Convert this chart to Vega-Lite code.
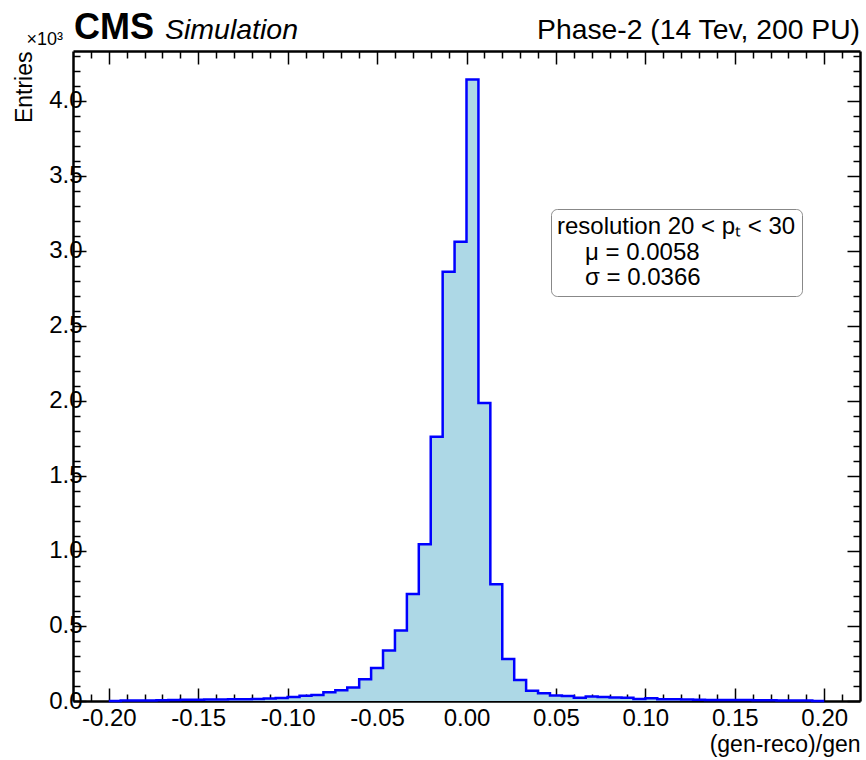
{
  "$schema": "https://vega.github.io/schema/vega-lite/v6.json",
  "width": 787,
  "height": 650,
  "autosize": "none",
  "padding": {"left": 73, "top": 51, "right": 6, "bottom": 59},
  "background": "white",
  "config": {
    "view": {"stroke": null},
    "font": "Liberation Sans",
    "axis": {
      "domainColor": "black", "domainWidth": 2.5, "tickColor": "black", "tickWidth": 1.5,
      "labelFont": "Liberation Sans", "labelFontSize": 24, "labelColor": "black",
      "titleFont": "Liberation Sans", "titleFontSize": 23, "titleFontWeight": "normal", "titleColor": "black",
      "grid": false
    }
  },
  "datasets": {
    "hist": [
      {"x": -0.2, "n": 0}, {"x": -0.19333, "n": 3}, {"x": -0.18667, "n": 4}, {"x": -0.18, "n": 4},
      {"x": -0.17333, "n": 5}, {"x": -0.16667, "n": 7}, {"x": -0.16, "n": 8}, {"x": -0.15333, "n": 9},
      {"x": -0.14667, "n": 10}, {"x": -0.14, "n": 10}, {"x": -0.13333, "n": 11}, {"x": -0.12667, "n": 12},
      {"x": -0.12, "n": 14}, {"x": -0.11333, "n": 16}, {"x": -0.10667, "n": 20}, {"x": -0.1, "n": 26},
      {"x": -0.09333, "n": 35}, {"x": -0.08667, "n": 40}, {"x": -0.08, "n": 58}, {"x": -0.07333, "n": 72},
      {"x": -0.06667, "n": 90}, {"x": -0.06, "n": 145}, {"x": -0.05333, "n": 220}, {"x": -0.04667, "n": 336},
      {"x": -0.04, "n": 470}, {"x": -0.03333, "n": 712}, {"x": -0.02667, "n": 1045}, {"x": -0.02, "n": 1760},
      {"x": -0.01333, "n": 2860}, {"x": -0.00667, "n": 3060}, {"x": 0.0, "n": 4140}, {"x": 0.00667, "n": 1985},
      {"x": 0.01333, "n": 777}, {"x": 0.02, "n": 280}, {"x": 0.02667, "n": 140}, {"x": 0.03333, "n": 69},
      {"x": 0.04, "n": 51}, {"x": 0.04667, "n": 36}, {"x": 0.05333, "n": 34}, {"x": 0.06, "n": 22},
      {"x": 0.06667, "n": 30}, {"x": 0.07333, "n": 26}, {"x": 0.08, "n": 24}, {"x": 0.08667, "n": 22},
      {"x": 0.09333, "n": 13}, {"x": 0.1, "n": 18}, {"x": 0.10667, "n": 11}, {"x": 0.11333, "n": 11},
      {"x": 0.12, "n": 10}, {"x": 0.12667, "n": 9}, {"x": 0.13333, "n": 7}, {"x": 0.14, "n": 7},
      {"x": 0.14667, "n": 6}, {"x": 0.15333, "n": 6}, {"x": 0.16, "n": 5}, {"x": 0.16667, "n": 5},
      {"x": 0.17333, "n": 4}, {"x": 0.18, "n": 4}, {"x": 0.18667, "n": 3}, {"x": 0.19333, "n": 0},
      {"x": 0.2, "n": 0}
    ],
    "stats": [{"stat": "μ = 0.0058"}, {"stat": "σ = 0.0366"}],
    "one": [{}]
  },
  "resolve": {"axis": {"x": "independent", "y": "independent"}},
  "layer": [
    {
      "data": {"name": "hist"},
      "mark": {"type": "area", "interpolate": "step-after", "color": "#add8e6"},
      "encoding": {
        "x": {
          "field": "x", "type": "quantitative",
          "scale": {"domain": [-0.22, 0.22], "nice": false, "zero": false},
          "axis": {
            "orient": "bottom",
            "values": [-0.21, -0.2, -0.19, -0.18, -0.17, -0.16, -0.15, -0.14, -0.13, -0.12, -0.11, -0.1, -0.09, -0.08, -0.07, -0.06, -0.05, -0.04, -0.03, -0.02, -0.01, 0, 0.01, 0.02, 0.03, 0.04, 0.05, 0.06, 0.07, 0.08, 0.09, 0.1, 0.11, 0.12, 0.13, 0.14, 0.15, 0.16, 0.17, 0.18, 0.19, 0.2, 0.21],
            "tickSize": {"condition": {"test": "abs(datum.value*20 - round(datum.value*20)) < 1e-6", "value": -13}, "value": -7},
            "labelExpr": "abs(datum.value*20 - round(datum.value*20)) < 1e-6 ? replace(format(datum.value, '.2f'), '\u2212', '-') : ''",
            "labelFontSize": 24,
            "labelPadding": 18,
            "title": "(gen-reco)/gen", "titleAnchor": "end", "titlePadding": 3
          }
        },
        "y": {
          "field": "n", "type": "quantitative",
          "scale": {"domain": [0, 4330], "nice": false},
          "axis": {
            "orient": "left",
            "values": [0, 100, 200, 300, 400, 500, 600, 700, 800, 900, 1000, 1100, 1200, 1300, 1400, 1500, 1600, 1700, 1800, 1900, 2000, 2100, 2200, 2300, 2400, 2500, 2600, 2700, 2800, 2900, 3000, 3100, 3200, 3300, 3400, 3500, 3600, 3700, 3800, 3900, 4000, 4100, 4200, 4300],
            "tickSize": {"condition": {"test": "datum.value % 500 == 0", "value": -13}, "value": -7},
            "labelExpr": "datum.value % 500 == 0 ? format(datum.value/1000, '.1f') : ''",
            "labelFontSize": 24,
            "labelPadding": 4,
            "title": "Entries", "titleAnchor": "end", "titlePadding": 12
          }
        }
      }
    },
    {
      "data": {"name": "hist"},
      "mark": {"type": "line", "interpolate": "step-after", "color": "#0000ff", "strokeWidth": 2.5},
      "encoding": {
        "x": {
          "field": "x", "type": "quantitative",
          "axis": {
            "orient": "top",
            "values": [-0.21, -0.2, -0.19, -0.18, -0.17, -0.16, -0.15, -0.14, -0.13, -0.12, -0.11, -0.1, -0.09, -0.08, -0.07, -0.06, -0.05, -0.04, -0.03, -0.02, -0.01, 0, 0.01, 0.02, 0.03, 0.04, 0.05, 0.06, 0.07, 0.08, 0.09, 0.1, 0.11, 0.12, 0.13, 0.14, 0.15, 0.16, 0.17, 0.18, 0.19, 0.2, 0.21],
            "tickSize": {"condition": {"test": "abs(datum.value*20 - round(datum.value*20)) < 1e-6", "value": -13}, "value": -7},
            "labels": false, "title": null
          }
        },
        "y": {
          "field": "n", "type": "quantitative",
          "axis": {
            "orient": "right",
            "values": [0, 100, 200, 300, 400, 500, 600, 700, 800, 900, 1000, 1100, 1200, 1300, 1400, 1500, 1600, 1700, 1800, 1900, 2000, 2100, 2200, 2300, 2400, 2500, 2600, 2700, 2800, 2900, 3000, 3100, 3200, 3300, 3400, 3500, 3600, 3700, 3800, 3900, 4000, 4100, 4200, 4300],
            "tickSize": {"condition": {"test": "datum.value % 500 == 0", "value": -13}, "value": -7},
            "labels": false, "title": null
          }
        }
      }
    },
    {
      "data": {"name": "stats"},
      "mark": {"type": "point", "opacity": 0},
      "encoding": {
        "color": {
          "field": "stat", "type": "nominal", "sort": null,
          "scale": {"range": ["#ffffff", "#ffffff"]},
          "legend": {
            "orient": "none", "legendX": 478, "legendY": 158,
            "title": "resolution 20 < pₜ < 30", "titleLimit": 500, "labelLimit": 500,
            "titleFont": "Liberation Sans", "titleFontSize": 24, "titleFontWeight": "normal", "titleColor": "black",
            "titlePadding": 2,
            "labelFont": "Liberation Sans", "labelFontSize": 24, "labelColor": "black",
            "symbolOpacity": 0, "symbolSize": 100, "labelOffset": 4, "rowPadding": 1,
            "strokeColor": "#888888", "cornerRadius": 6, "padding": 6, "fillColor": "white"
          }
        }
      }
    },
    {
      "data": {"name": "one"},
      "mark": {"type": "text", "font": "Liberation Sans", "fontWeight": "bold", "fontSize": 36, "align": "left", "baseline": "alphabetic", "dx": 1},
      "encoding": {
        "x": {"datum": -0.22, "type": "quantitative", "axis": null},
        "y": {"datum": 4407, "type": "quantitative", "axis": null},
        "text": {"value": "CMS"}
      }
    },
    {
      "data": {"name": "one"},
      "mark": {"type": "text", "font": "Liberation Sans", "fontStyle": "italic", "fontSize": 28.5, "align": "left", "baseline": "alphabetic", "dx": 92},
      "encoding": {
        "x": {"datum": -0.22, "type": "quantitative", "axis": null},
        "y": {"datum": 4407, "type": "quantitative", "axis": null},
        "text": {"value": "Simulation"}
      }
    },
    {
      "data": {"name": "one"},
      "mark": {"type": "text", "font": "Liberation Sans", "fontSize": 18, "align": "right", "baseline": "alphabetic", "dx": -10},
      "encoding": {
        "x": {"datum": -0.22, "type": "quantitative", "axis": null},
        "y": {"datum": 4367, "type": "quantitative", "axis": null},
        "text": {"value": "×10³"}
      }
    },
    {
      "data": {"name": "one"},
      "mark": {"type": "text", "font": "Liberation Sans", "fontSize": 28.3, "align": "right", "baseline": "alphabetic"},
      "encoding": {
        "x": {"datum": 0.22, "type": "quantitative", "axis": null},
        "y": {"datum": 4407, "type": "quantitative", "axis": null},
        "text": {"value": "Phase-2 (14 Tev, 200 PU)"}
      }
    }
  ]
}
